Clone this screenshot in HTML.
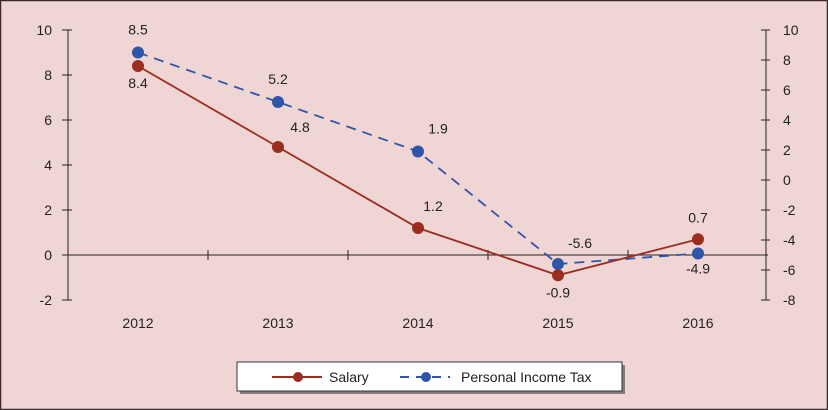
<!DOCTYPE html>
<html><head><meta charset="utf-8"><style>
html,body{margin:0;padding:0;background:#f0d5d5;}
svg{display:block;font-family:"Liberation Sans",Arial,sans-serif;}
</style></head><body>
<svg id="chart" width="828" height="410" viewBox="0 0 828 410">
<rect x="0.5" y="0.5" width="827" height="409" fill="#f0d5d5" stroke="#3a2a2a" stroke-width="1.5"/>
<g id="axes"></g>
<g id="series"></g>
<g>
<rect x="240" y="365" width="385" height="29" fill="#555" opacity="0.7"/>
<rect x="237" y="362" width="385" height="29" fill="#fff" stroke="#333" stroke-width="1"/>
<g>
<line x1="272" y1="377" x2="322" y2="377" stroke="#9b2d1f" stroke-width="2"/>
<circle cx="298" cy="377" r="5" fill="#9b2d1f"/>
<text x="329" y="382" font-size="14" fill="#222">Salary</text></g>
<g>
<line x1="400" y1="377" x2="450" y2="377" stroke="#2f55a8" stroke-width="2" stroke-dasharray="9,7"/>
<circle cx="426" cy="377" r="5" fill="#2f55a8"/>
<text x="461" y="382" font-size="14" fill="#222">Personal Income Tax</text></g>
</g>
</svg>
<script>
const categories=["2012","2013","2014","2015","2016"];
const salary=[8.4,4.8,1.2,-0.9,0.7];
const pit=[8.5,5.2,1.9,-5.6,-4.9];
const leftTicks=[10,8,6,4,2,0,-2];
const rightTicks=[10,8,6,4,2,0,-2,-4,-6,-8];
const NS="http://www.w3.org/2000/svg";
const x0=68,band=140;
const xs=i=>x0+band*(i+0.5);
const yL=v=>255-v*22.5;
const yR=v=>180-v*15;
const axes=document.getElementById('axes'),ser=document.getElementById('series');
function mk(tag,attrs,parent,txt){const e=document.createElementNS(NS,tag);for(const k in attrs)e.setAttribute(k,attrs[k]);if(txt!==undefined)e.textContent=txt;parent.appendChild(e);return e;}
let e;
e=mk('line',{x1:x0,y1:yL(10),x2:x0,y2:yL(-2),stroke:'#222','stroke-width':1},axes);


e=mk('line',{x1:766,y1:yR(10),x2:766,y2:yR(-8),stroke:'#222','stroke-width':1},axes);


e=mk('line',{x1:x0,y1:yL(0),x2:x0+band*5,y2:yL(0),stroke:'#222','stroke-width':1},axes);


leftTicks.forEach(v=>{mk('line',{x1:x0-6,y1:yL(v),x2:x0+4,y2:yL(v),stroke:'#222'},axes);
e=mk('text',{x:x0-16,y:yL(v)+5,'text-anchor':'end','font-size':14,fill:'#222'},axes,String(v));

});
rightTicks.forEach(v=>{mk('line',{x1:761,y1:yR(v),x2:770,y2:yR(v),stroke:'#222'},axes);
e=mk('text',{x:783,y:yR(v)+5,'text-anchor':'start','font-size':14,fill:'#222'},axes,String(v));

});
for(let i=1;i<5;i++)mk('line',{x1:x0+band*i,y1:yL(0)-5,x2:x0+band*i,y2:yL(0)+5,stroke:'#222'},axes);
categories.forEach((c,i)=>{e=mk('text',{x:xs(i),y:328,'text-anchor':'middle','font-size':14,fill:'#222'},axes,c);

});
e=mk('polyline',{points:pit.map((v,i)=>xs(i)+','+yR(v)).join(' '),fill:'none',stroke:'#2f55a8','stroke-width':1.8,'stroke-dasharray':'10,7'},ser);


e=mk('polyline',{points:salary.map((v,i)=>xs(i)+','+yL(v)).join(' '),fill:'none',stroke:'#9b2d1f','stroke-width':1.8},ser);


pit.forEach((v,i)=>{e=mk('circle',{cx:xs(i),cy:yR(v),r:6,fill:'#2f55a8'},ser);


const dy=v<0?-16:-18;
e=mk('text',{x:xs(i)+(i==2?20:i==3?22:0),y:yR(v)+dy,'text-anchor':'middle','font-size':14,fill:'#222'},ser,v.toFixed(1));
if(i==4)e.setAttribute('y',yR(v)+20);

});
salary.forEach((v,i)=>{e=mk('circle',{cx:xs(i),cy:yL(v),r:6,fill:'#9b2d1f'},ser);


const above=(i==2||i==4);
e=mk('text',{x:xs(i)+(i==1?22:i==2?15:0),y:above?yL(v)-17:(i==1?yL(v)-15:yL(v)+22),'text-anchor':'middle','font-size':14,fill:'#222'},ser,v.toFixed(1));

});
</script>
</body></html>
